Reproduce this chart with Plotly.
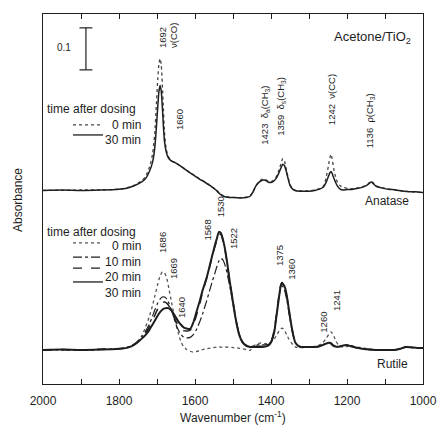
import plotly.graph_objects as go

# ---- spectra (absorbance relative to each sample's own baseline) ----
anatase_wn = [2000, 1950, 1900, 1850, 1800, 1780, 1760, 1740, 1730, 1720, 1712, 1706, 1702, 1698,
              1695, 1692, 1689, 1686, 1683, 1680, 1676, 1671, 1665, 1660, 1652, 1645, 1635, 1626,
              1615, 1605, 1595, 1585, 1575, 1565, 1555, 1545, 1535, 1525, 1510, 1495, 1480, 1465,
              1455, 1448, 1440, 1432, 1423, 1415, 1408, 1400, 1393, 1387, 1380, 1374, 1369, 1364,
              1360, 1355, 1350, 1343, 1335, 1320, 1300, 1285, 1272, 1262, 1255, 1249, 1245, 1242,
              1239, 1235, 1230, 1225, 1218, 1210, 1200, 1190, 1178, 1165, 1155, 1146, 1140, 1136,
              1131, 1125, 1118, 1110, 1095, 1080, 1065, 1050, 1035, 1020, 1000]
anatase_30min = [0.000, 0.001, 0.000, 0.001, 0.003, 0.005, 0.011, 0.020, 0.028, 0.045, 0.066, 0.100,
                 0.145, 0.200, 0.235, 0.250, 0.238, 0.200, 0.150, 0.115, 0.093, 0.079, 0.072, 0.069,
                 0.066, 0.062, 0.056, 0.050, 0.043, 0.037, 0.031, 0.025, 0.020, 0.014, 0.008, 0.001,
                 -0.008, -0.014, -0.017, -0.017, -0.018, -0.017, -0.014, -0.005, 0.010, 0.019, 0.024,
                 0.024, 0.020, 0.019, 0.022, 0.028, 0.040, 0.053, 0.062, 0.058, 0.046, 0.028, 0.012,
                 0.003, -0.001, -0.002, -0.002, 0.000, 0.003, 0.008, 0.019, 0.033, 0.042, 0.045,
                 0.040, 0.030, 0.019, 0.010, 0.003, 0.001, 0.002, 0.002, 0.004, 0.006, 0.009, 0.013,
                 0.018, 0.020, 0.016, 0.011, 0.008, 0.006, 0.003, 0.002, 0.000, -0.002, -0.003,
                 -0.003, -0.005]
anatase_0min = [0.000, 0.000, 0.001, 0.001, 0.003, 0.006, 0.012, 0.023, 0.033, 0.055, 0.085, 0.135,
                0.200, 0.265, 0.300, 0.314, 0.300, 0.255, 0.190, 0.135, 0.100, 0.082, 0.073, 0.069,
                0.066, 0.062, 0.056, 0.051, 0.044, 0.038, 0.032, 0.026, 0.021, 0.015, 0.008, 0.002,
                -0.007, -0.013, -0.016, -0.017, -0.017, -0.016, -0.013, -0.004, 0.011, 0.020, 0.027,
                0.026, 0.022, 0.021, 0.024, 0.031, 0.046, 0.063, 0.076, 0.068, 0.052, 0.031, 0.014,
                0.004, 0.000, -0.001, -0.001, 0.001, 0.004, 0.010, 0.030, 0.058, 0.078, 0.086,
                0.075, 0.052, 0.032, 0.019, 0.011, 0.007, 0.005, 0.004, 0.005, 0.007, 0.010, 0.014,
                0.020, 0.022, 0.018, 0.012, 0.009, 0.007, 0.004, 0.002, 0.000, -0.002, -0.003,
                -0.004, -0.005]

rutile_wn = [2000, 1950, 1900, 1850, 1800, 1780, 1765, 1753, 1740, 1730, 1720, 1712, 1705, 1698,
             1692, 1686, 1680, 1674, 1668, 1662, 1656, 1650, 1644, 1637, 1630, 1622, 1613, 1605,
             1597, 1588, 1580, 1570, 1562, 1555, 1548, 1542, 1537, 1532, 1527, 1522, 1516, 1510,
             1503, 1496, 1490, 1483, 1475, 1465, 1455, 1445, 1435, 1425, 1415, 1405, 1398, 1391,
             1385, 1379, 1375, 1371, 1367, 1363, 1358, 1353, 1347, 1341, 1335, 1325, 1310, 1295,
             1283, 1272, 1263, 1255, 1248, 1242, 1236, 1229, 1221, 1212, 1203, 1190, 1175, 1160,
             1140, 1125, 1100, 1075, 1060, 1045, 1030, 1015, 1000]
rutile_0min = [0.000, 0.000, -0.001, 0.001, 0.002, 0.005, 0.010, 0.018, 0.034, 0.055, 0.080, 0.105,
               0.131, 0.157, 0.176, 0.186, 0.183, 0.170, 0.143, 0.115, 0.087, 0.060, 0.040, 0.020,
               0.008, 0.001, -0.003, -0.005, -0.004, -0.002, 0.001, 0.003, 0.004, 0.005, 0.006,
               0.006, 0.007, 0.007, 0.007, 0.007, 0.007, 0.006, 0.006, 0.005, 0.005, 0.004, 0.003,
               0.001, -0.001, 0.010, 0.015, 0.017, 0.015, 0.016, 0.020, 0.027, 0.035, 0.045, 0.050,
               0.052, 0.050, 0.044, 0.035, 0.026, 0.018, 0.011, 0.007, 0.006, 0.006, 0.007, 0.009,
               0.012, 0.018, 0.027, 0.037, 0.043, 0.036, 0.021, 0.010, 0.007, 0.008, 0.009, 0.007,
               0.005, 0.002, 0.000, 0.000, 0.000, 0.003, 0.007, 0.006, 0.005, 0.005]
rutile_10min = [0.000, 0.001, 0.000, 0.001, 0.003, 0.006, 0.011, 0.018, 0.030, 0.045, 0.062, 0.080,
                0.097, 0.112, 0.121, 0.126, 0.126, 0.121, 0.110, 0.095, 0.078, 0.061, 0.048, 0.037,
                0.031, 0.029, 0.030, 0.036, 0.047, 0.066, 0.086, 0.115, 0.140, 0.162, 0.182, 0.200,
                0.212, 0.218, 0.215, 0.205, 0.185, 0.158, 0.125, 0.090, 0.061, 0.037, 0.020, 0.011,
                0.008, 0.010, 0.012, 0.013, 0.012, 0.014, 0.025, 0.048, 0.085, 0.125, 0.145, 0.153,
                0.148, 0.138, 0.117, 0.090, 0.058, 0.032, 0.017, 0.009, 0.007, 0.007, 0.008, 0.009,
                0.012, 0.016, 0.018, 0.017, 0.012, 0.008, 0.008, 0.010, 0.012, 0.010, 0.006, 0.003,
                0.001, 0.000, 0.000, 0.000, 0.003, 0.007, 0.006, 0.005, 0.005]
rutile_20min = [0.000, 0.001, 0.000, 0.002, 0.003, 0.006, 0.011, 0.018, 0.029, 0.040, 0.055, 0.070,
                0.084, 0.098, 0.107, 0.113, 0.114, 0.111, 0.104, 0.093, 0.080, 0.068, 0.058, 0.050,
                0.046, 0.045, 0.047, 0.058, 0.080, 0.108, 0.138, 0.168, 0.196, 0.222, 0.245, 0.262,
                0.275, 0.275, 0.262, 0.243, 0.210, 0.172, 0.132, 0.093, 0.062, 0.036, 0.019, 0.011,
                0.008, 0.009, 0.009, 0.009, 0.009, 0.012, 0.024, 0.050, 0.090, 0.130, 0.152, 0.160,
                0.155, 0.145, 0.125, 0.095, 0.062, 0.034, 0.017, 0.008, 0.007, 0.007, 0.007, 0.009,
                0.012, 0.015, 0.017, 0.016, 0.011, 0.008, 0.008, 0.010, 0.012, 0.010, 0.006, 0.003,
                0.001, 0.000, 0.000, 0.000, 0.003, 0.007, 0.006, 0.005, 0.005]
rutile_30min = [0.000, 0.001, 0.000, 0.001, 0.003, 0.005, 0.010, 0.017, 0.027, 0.036, 0.048, 0.060,
                0.071, 0.082, 0.090, 0.096, 0.099, 0.100, 0.099, 0.094, 0.086, 0.077, 0.068, 0.060,
                0.054, 0.051, 0.050, 0.064, 0.088, 0.115, 0.142, 0.170, 0.198, 0.224, 0.248, 0.267,
                0.281, 0.279, 0.265, 0.245, 0.212, 0.172, 0.131, 0.090, 0.060, 0.034, 0.018, 0.010,
                0.007, 0.007, 0.007, 0.007, 0.008, 0.012, 0.022, 0.045, 0.085, 0.125, 0.150, 0.160,
                0.155, 0.148, 0.127, 0.097, 0.062, 0.033, 0.016, 0.008, 0.007, 0.007, 0.007, 0.009,
                0.012, 0.015, 0.017, 0.015, 0.010, 0.008, 0.008, 0.010, 0.012, 0.009, 0.005, 0.003,
                0.001, 0.000, 0.000, 0.000, 0.003, 0.007, 0.006, 0.005, 0.005]

tick_values = [2000, 1800, 1600, 1400, 1200, 1000]
tick_labels = ["2000", "1800", "1600", "1400", "1200", "1000"]

ANATASE_OFFSET = 0.38   # vertical stacking of the anatase spectra
FONT = "Liberation Sans, Arial, sans-serif"
INK = "#1e1e1e"

fig = go.Figure()


def add_spectrum(x, y, dash, width, color, offset=0.0):
    fig.add_trace(go.Scatter(
        x=x, y=[v + offset for v in y], mode="lines",
        line=dict(color=color, width=width, dash=dash, shape="spline", smoothing=0.6),
        showlegend=False, hoverinfo="skip"))


# anatase (upper)
add_spectrum(anatase_wn, anatase_0min, "dot", 1.3, "#444444", ANATASE_OFFSET)
add_spectrum(anatase_wn, anatase_30min, "solid", 1.5, INK, ANATASE_OFFSET)
# rutile (lower)
add_spectrum(rutile_wn, rutile_0min, "dot", 1.3, "#555555")
add_spectrum(rutile_wn, rutile_10min, "dashdot", 1.2, INK)
add_spectrum(rutile_wn, rutile_20min, "dash", 1.5, INK)
add_spectrum(rutile_wn, rutile_30min, "solid", 2.0, INK)

shapes = []
annotations = []


def hline(x0, x1, y, dash, width, color=INK):
    shapes.append(dict(type="line", xref="x", yref="y", x0=x0, x1=x1, y0=y, y1=y,
                       line=dict(color=color, width=width, dash=dash)))


def text(x, y, s, size=12, anchor="center", angle=0, ref="data"):
    annotations.append(dict(
        x=x, y=y, xref="x" if ref == "data" else "paper", yref="y" if ref == "data" else "paper",
        text=s, showarrow=False, textangle=angle, xanchor=anchor, yanchor="middle",
        font=dict(family=FONT, size=size, color=INK)))


# 0.1 absorbance scale bar
bar_x, bar_y0 = 1887, 0.667
shapes.append(dict(type="line", xref="x", yref="y", x0=bar_x, x1=bar_x, y0=bar_y0, y1=bar_y0 + 0.1,
                   line=dict(color=INK, width=1.2)))
for yy in (bar_y0, bar_y0 + 0.1):
    hline(bar_x - 17, bar_x + 17, yy, "solid", 1.2)
text(1922, 0.721, "0.1", size=10, anchor="right")

# legend, anatase block
text(1995, 0.574, "time after dosing", anchor="left")
hline(1921, 1842, 0.536, "dot", 1.3, "#444444")
text(1737, 0.536, "0 min", anchor="right")
hline(1921, 1842, 0.512, "solid", 1.3)
text(1737, 0.500, "30 min", anchor="right")

# legend, rutile block
text(1995, 0.281, "time after dosing", anchor="left")
hline(1921, 1842, 0.255, "dot", 1.3, "#555555")
text(1737, 0.248, "0 min", anchor="right")
hline(1921, 1842, 0.221, "dashdot", 1.2)
text(1737, 0.210, "10 min", anchor="right")
hline(1921, 1842, 0.195, "dash", 1.4)
text(1737, 0.174, "20 min", anchor="right")
hline(1921, 1842, 0.162, "solid", 1.3)
text(1737, 0.136, "30 min", anchor="right")

# band assignments, anatase
for x, y, s in [(1687, 0.745, "1692"), (1658, 0.750, "ν(CO)"), (1639, 0.548, "1660"),
                (1416, 0.560, "1423  δ<sub>a</sub>(CH<sub>3</sub>)"),
                (1374, 0.581, "1359  δ<sub>s</sub>(CH<sub>3</sub>)"),
                (1242, 0.595, "1242  ν(CC)"),
                (1139, 0.545, "1136  ρ(CH<sub>3</sub>)")]:
    text(x, y, s, size=9.5, angle=-90)

# band assignments, rutile
for x, y, s in [(1684, 0.255, "1686"), (1658, 0.195, "1669"), (1634, 0.100, "1640"),
                (1568, 0.285, "1568"), (1534, 0.340, "1530"), (1500, 0.264, "1522"),
                (1376, 0.224, "1375"), (1345, 0.193, "1360"), (1261, 0.067, "1260"),
                (1229, 0.119, "1241")]:
    text(x, y, s, size=9.5, angle=-90)

text(1026, 0.745, "Acetone/TiO<sub>2</sub>", size=13, anchor="right")
text(1032, 0.355, "Anatase", size=12, anchor="right")
text(1034, -0.033, "Rutile", size=12, anchor="right")
text(-0.066, 0.497, "Absorbance", size=12, angle=-90, ref="paper")
text(0.5, -0.088, "Wavenumber (cm<sup>-1</sup>)", size=12, ref="paper")

fig.update_layout(
    width=438, height=425,
    margin=dict(l=43, r=15, t=14, b=41),
    paper_bgcolor="white", plot_bgcolor="white",
    font=dict(family=FONT, size=12, color=INK),
    shapes=shapes, annotations=annotations,
    xaxis=dict(range=[2000, 1000], tickvals=tick_values, ticktext=tick_labels,
               ticks="inside", ticklen=5, tickwidth=1, tickcolor=INK,
               minor=dict(dtick=100, tick0=2000, ticks="inside", ticklen=5, tickwidth=1,
                          tickcolor=INK, showgrid=False),
               showline=True, linecolor=INK, linewidth=1.2, mirror="allticks",
               showgrid=False, zeroline=False, ticklabelstandoff=5, automargin=False,
               tickfont=dict(family=FONT, size=12, color=INK)),
    yaxis=dict(range=[-0.081, 0.80], showticklabels=False, ticks="", automargin=False,
               showline=True, linecolor=INK, linewidth=1.2, mirror=True,
               showgrid=False, zeroline=False),
)

fig.write_html("out.html")
